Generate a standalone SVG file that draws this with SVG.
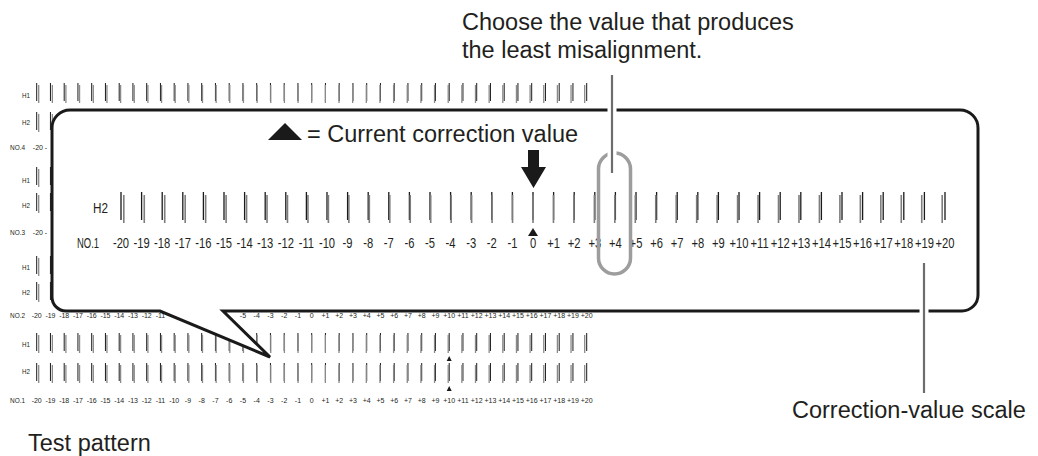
<svg xmlns="http://www.w3.org/2000/svg" xmlns:xlink="http://www.w3.org/1999/xlink" width="1038" height="456" viewBox="0 0 1038 456">
<style>
.lbl{font-family:"Liberation Sans",Arial,sans-serif;font-size:23.5px;fill:#231f20}
.sn{font-family:"Liberation Sans",Arial,sans-serif;font-size:14px;fill:#231f20;text-anchor:middle}
.sl{font-family:"Liberation Sans",Arial,sans-serif;font-size:14px;fill:#231f20}
.tn{font-family:"Liberation Sans",Arial,sans-serif;font-size:7px;fill:#231f20;text-anchor:middle}
.tl{font-family:"Liberation Sans",Arial,sans-serif;font-size:8px;fill:#231f20;text-anchor:end}
.tb{stroke:#1a1a1a;stroke-width:1;fill:none}
.tg{stroke:#8a8a8a;stroke-width:1.3;fill:none}
.mb{stroke:#1a1a1a;stroke-width:1.3;fill:none}
.mg{stroke:#7d7d7d;stroke-width:1.6;fill:none}
.lead{stroke:#6d6d6d;stroke-width:2.2;fill:none}
.halo{stroke:#fff;stroke-width:9;fill:none}
</style>
<defs>
<g id="tprow">
<path class="tb" d="M36.7 0V18M50.45 0V18M64.2 0V18M77.95 0V18M91.7 0V18M105.45 0V18M119.2 0V18M132.95 0V18M146.7 0V18M160.45 0V18M174.2 0V18M187.95 0V18M201.7 0V18M215.45 0V18M229.2 0V18M242.95 0V18M256.7 0V18M270.45 0V18M284.2 0V18M297.95 0V18M311.7 0V18M325.45 0V18M339.2 0V18M352.95 0V18M366.7 0V18M380.45 0V18M394.2 0V18M407.95 0V18M421.7 0V18M435.45 0V18M449.2 0V18M462.95 0V18M476.7 0V18M490.45 0V18M504.2 0V18M517.95 0V18M531.7 0V18M545.45 0V18M559.2 0V18M572.95 0V18M586.7 0V18"/>
<path class="tg" d="M38.7 2V20M52.35 2V20M65.9 2V20M79.55 2V20M93.3 2V20M106.95 2V20M120.6 2V20M134.25 2V20M147.9 2V20M161.55 2V20M175.2 2V20M188.85 2V20M202.5 2V20M216.15 2V20M229.8 2V20M243.45 2V20M257.1 2V20M270.75 2V20M284.4 2V20M298.05 2V20M311.7 2V20M325.35 2V20M339 2V20M352.65 2V20M366.3 2V20M379.95 2V20M393.6 2V20M407.25 2V20M420.9 2V20M434.55 2V20M448.2 2V20M461.85 2V20M475.5 2V20M489.15 2V20M502.8 2V20M516.45 2V20M530.1 2V20M543.75 2V20M557.4 2V20M571.05 2V20M584.7 2V20"/>
</g>
</defs>
<rect width="1038" height="456" fill="#fff"/>

<g id="test-pattern">
<use xlink:href="#tprow" transform="translate(0,83)"/>
<use xlink:href="#tprow" transform="translate(0,112)"/>
<use xlink:href="#tprow" transform="translate(0,167)"/>
<use xlink:href="#tprow" transform="translate(0,193)"/>
<use xlink:href="#tprow" transform="translate(0,256)"/>
<use xlink:href="#tprow" transform="translate(0,282)"/>
<use xlink:href="#tprow" transform="translate(0,333)"/>
<use xlink:href="#tprow" transform="translate(0,363)"/>
<polygon points="449.2,356 446.7,361 451.7,361" fill="#1a1a1a"/>
<polygon points="449.2,386 446.7,391 451.7,391" fill="#1a1a1a"/>
<text class="tl" x="30" y="98" textLength="8" lengthAdjust="spacingAndGlyphs">H1</text>
<text class="tl" x="30" y="125" textLength="8" lengthAdjust="spacingAndGlyphs">H2</text>
<text class="tl" x="25" y="150" textLength="15" lengthAdjust="spacingAndGlyphs">NO.4</text>
<text class="tn" x="40" y="150">-20 -</text>
<text class="tl" x="30" y="183" textLength="8" lengthAdjust="spacingAndGlyphs">H1</text>
<text class="tl" x="30" y="208" textLength="8" lengthAdjust="spacingAndGlyphs">H2</text>
<text class="tl" x="25" y="235" textLength="15" lengthAdjust="spacingAndGlyphs">NO.3</text>
<text class="tn" x="40" y="235">-20 -</text>
<text class="tl" x="30" y="270" textLength="8" lengthAdjust="spacingAndGlyphs">H1</text>
<text class="tl" x="30" y="295" textLength="8" lengthAdjust="spacingAndGlyphs">H2</text>
<text class="tl" x="25" y="318" textLength="15" lengthAdjust="spacingAndGlyphs">NO.2</text>
<g id="no2-numbers">
<text class="tn" x="36.7" y="318">-20</text><text class="tn" x="50.45" y="318">-19</text><text class="tn" x="64.2" y="318">-18</text><text class="tn" x="77.95" y="318">-17</text><text class="tn" x="91.7" y="318">-16</text><text class="tn" x="105.45" y="318">-15</text><text class="tn" x="119.2" y="318">-14</text><text class="tn" x="132.95" y="318">-13</text><text class="tn" x="146.7" y="318">-12</text><text class="tn" x="160.45" y="318">-11</text>
<text class="tn" x="242.95" y="318">-5</text><text class="tn" x="256.7" y="318">-4</text><text class="tn" x="270.45" y="318">-3</text><text class="tn" x="284.2" y="318">-2</text><text class="tn" x="297.95" y="318">-1</text><text class="tn" x="311.7" y="318">0</text><text class="tn" x="325.45" y="318">+1</text><text class="tn" x="339.2" y="318">+2</text><text class="tn" x="352.95" y="318">+3</text><text class="tn" x="366.7" y="318">+4</text><text class="tn" x="380.45" y="318">+5</text><text class="tn" x="394.2" y="318">+6</text><text class="tn" x="407.95" y="318">+7</text><text class="tn" x="421.7" y="318">+8</text><text class="tn" x="435.45" y="318">+9</text><text class="tn" x="449.2" y="318">+10</text><text class="tn" x="462.95" y="318">+11</text><text class="tn" x="476.7" y="318">+12</text><text class="tn" x="490.45" y="318">+13</text><text class="tn" x="504.2" y="318">+14</text><text class="tn" x="517.95" y="318">+15</text><text class="tn" x="531.7" y="318">+16</text><text class="tn" x="545.45" y="318">+17</text><text class="tn" x="559.2" y="318">+18</text><text class="tn" x="572.95" y="318">+19</text><text class="tn" x="586.7" y="318">+20</text>
</g>
<text class="tl" x="30" y="347" textLength="8" lengthAdjust="spacingAndGlyphs">H1</text>
<text class="tl" x="30" y="374" textLength="8" lengthAdjust="spacingAndGlyphs">H2</text>
<text class="tl" x="25" y="403" textLength="15" lengthAdjust="spacingAndGlyphs">NO.1</text>
<g id="no1-numbers">
<text class="tn" x="36.7" y="403">-20</text><text class="tn" x="50.45" y="403">-19</text><text class="tn" x="64.2" y="403">-18</text><text class="tn" x="77.95" y="403">-17</text><text class="tn" x="91.7" y="403">-16</text><text class="tn" x="105.45" y="403">-15</text><text class="tn" x="119.2" y="403">-14</text><text class="tn" x="132.95" y="403">-13</text><text class="tn" x="146.7" y="403">-12</text><text class="tn" x="160.45" y="403">-11</text><text class="tn" x="174.2" y="403">-10</text><text class="tn" x="187.95" y="403">-9</text><text class="tn" x="201.7" y="403">-8</text><text class="tn" x="215.45" y="403">-7</text><text class="tn" x="229.2" y="403">-6</text>
<text class="tn" x="242.95" y="403">-5</text><text class="tn" x="256.7" y="403">-4</text><text class="tn" x="270.45" y="403">-3</text><text class="tn" x="284.2" y="403">-2</text><text class="tn" x="297.95" y="403">-1</text><text class="tn" x="311.7" y="403">0</text><text class="tn" x="325.45" y="403">+1</text><text class="tn" x="339.2" y="403">+2</text><text class="tn" x="352.95" y="403">+3</text><text class="tn" x="366.7" y="403">+4</text><text class="tn" x="380.45" y="403">+5</text><text class="tn" x="394.2" y="403">+6</text><text class="tn" x="407.95" y="403">+7</text><text class="tn" x="421.7" y="403">+8</text><text class="tn" x="435.45" y="403">+9</text><text class="tn" x="449.2" y="403">+10</text><text class="tn" x="462.95" y="403">+11</text><text class="tn" x="476.7" y="403">+12</text><text class="tn" x="490.45" y="403">+13</text><text class="tn" x="504.2" y="403">+14</text><text class="tn" x="517.95" y="403">+15</text><text class="tn" x="531.7" y="403">+16</text><text class="tn" x="545.45" y="403">+17</text><text class="tn" x="559.2" y="403">+18</text><text class="tn" x="572.95" y="403">+19</text><text class="tn" x="586.7" y="403">+20</text>
</g>
</g>

<g id="callout">
<path d="M70,110 H960 A18,18 0 0 1 978,128 V295 A16,16 0 0 1 962,311 H223 L270,357 L160,311 H66 A14,14 0 0 1 52,297 V128 A18,18 0 0 1 70,110 Z" fill="#fff" stroke="#1a1a1a" stroke-width="3" stroke-linejoin="miter"/>
</g>

<g id="legend">
<polygon points="285,123 268,140 302,140" fill="#1a1a1a"/>
<text class="lbl" x="307" y="142">= Current correction value</text>
</g>

<g id="scale-row">
<text class="sl" x="93" y="213" textLength="15" lengthAdjust="spacingAndGlyphs">H2</text>
<path class="mb" d="M121 192V220M141.6 192V220M162.2 192V220M182.8 192V220M203.4 192V220M224 192V220M244.6 192V220M265.2 192V220M285.8 192V220M306.4 192V220M327 192V220M347.6 192V220M368.2 192V220M388.8 192V220M409.4 192V220M430 192V220M450.6 192V220M471.2 192V220M491.8 192V220M512.4 192V220M533 192V220M553.6 192V220M574.2 192V220M594.8 192V220M615.4 192V220M636 192V220M656.6 192V220M677.2 192V220M697.8 192V220M718.4 192V220M739 192V220M759.6 192V220M780.2 192V220M800.8 192V220M821.4 192V220M842 192V220M862.6 192V220M883.2 192V220M903.8 192V220M924.4 192V220M945 192V220"/>
<path class="mg" d="M123.8 195V223M144.26 195V223M164.72 195V223M185.18 195V223M205.64 195V223M226.1 195V223M246.56 195V223M267.02 195V223M287.48 195V223M307.94 195V223M328.4 195V223M348.86 195V223M369.32 195V223M389.78 195V223M410.24 195V223M430.7 195V223M451.16 195V223M471.62 195V223M492.08 195V223M512.54 195V223M533 195V223M553.46 195V223M573.92 195V223M594.38 195V223M614.84 195V223M635.3 195V223M655.76 195V223M676.22 195V223M696.68 195V223M717.14 195V223M737.6 195V223M758.06 195V223M778.52 195V223M798.98 195V223M819.44 195V223M839.9 195V223M860.36 195V223M880.82 195V223M901.28 195V223M921.74 195V223M942.2 195V223"/>
<polygon points="533,228 528,236 538,236" fill="#1a1a1a"/>
<text class="sl" x="77" y="248" textLength="22" lengthAdjust="spacingAndGlyphs">NO.1</text>
<g transform="scale(0.8,1)">
<text class="sn" x="151.25" y="248">-20</text>
<text class="sn" x="177" y="248">-19</text>
<text class="sn" x="202.75" y="248">-18</text>
<text class="sn" x="228.5" y="248">-17</text>
<text class="sn" x="254.25" y="248">-16</text>
<text class="sn" x="280" y="248">-15</text>
<text class="sn" x="305.75" y="248">-14</text>
<text class="sn" x="331.5" y="248">-13</text>
<text class="sn" x="357.25" y="248">-12</text>
<text class="sn" x="383" y="248">-11</text>
<text class="sn" x="408.75" y="248">-10</text>
<text class="sn" x="434.5" y="248">-9</text>
<text class="sn" x="460.25" y="248">-8</text>
<text class="sn" x="486" y="248">-7</text>
<text class="sn" x="511.75" y="248">-6</text>
<text class="sn" x="537.5" y="248">-5</text>
<text class="sn" x="563.25" y="248">-4</text>
<text class="sn" x="589" y="248">-3</text>
<text class="sn" x="614.75" y="248">-2</text>
<text class="sn" x="640.5" y="248">-1</text>
<text class="sn" x="666.25" y="248">0</text>
<text class="sn" x="692" y="248">+1</text>
<text class="sn" x="717.75" y="248">+2</text>
<text class="sn" x="743.5" y="248">+3</text>
<text class="sn" x="769.25" y="248">+4</text>
<text class="sn" x="795" y="248">+5</text>
<text class="sn" x="820.75" y="248">+6</text>
<text class="sn" x="846.5" y="248">+7</text>
<text class="sn" x="872.25" y="248">+8</text>
<text class="sn" x="898" y="248">+9</text>
<text class="sn" x="923.75" y="248">+10</text>
<text class="sn" x="949.5" y="248">+11</text>
<text class="sn" x="975.25" y="248">+12</text>
<text class="sn" x="1001" y="248">+13</text>
<text class="sn" x="1026.75" y="248">+14</text>
<text class="sn" x="1052.5" y="248">+15</text>
<text class="sn" x="1078.25" y="248">+16</text>
<text class="sn" x="1104" y="248">+17</text>
<text class="sn" x="1129.75" y="248">+18</text>
<text class="sn" x="1155.5" y="248">+19</text>
<text class="sn" x="1181.25" y="248">+20</text>
</g>
</g>

<g id="current-arrow">
<polygon points="528,150 539,150 539,167 546,167 533.5,188 521,167 528,167" fill="#1a1a1a"/>
</g>

<g id="capsule">
<rect x="598.5" y="153" width="32" height="121" rx="16" ry="16" fill="none" stroke="#9d9d9d" stroke-width="3.5"/>
</g>

<g id="connectors">
<line class="halo" x1="612" y1="75" x2="612" y2="173"/>
<line class="lead" x1="612" y1="75" x2="612" y2="173"/>
<line class="halo" x1="924" y1="300" x2="924" y2="322"/>
<line class="lead" x1="924" y1="263" x2="924" y2="393"/>
</g>

<g id="label-choose">
<text class="lbl" x="462" y="30">Choose the value that produces</text>
<text class="lbl" x="462" y="58">the least misalignment.</text>
</g>
<g id="label-scale">
<text class="lbl" x="792" y="418">Correction-value scale</text>
</g>
<g id="label-test">
<text class="lbl" x="28" y="451">Test pattern</text>
</g>
</svg>
